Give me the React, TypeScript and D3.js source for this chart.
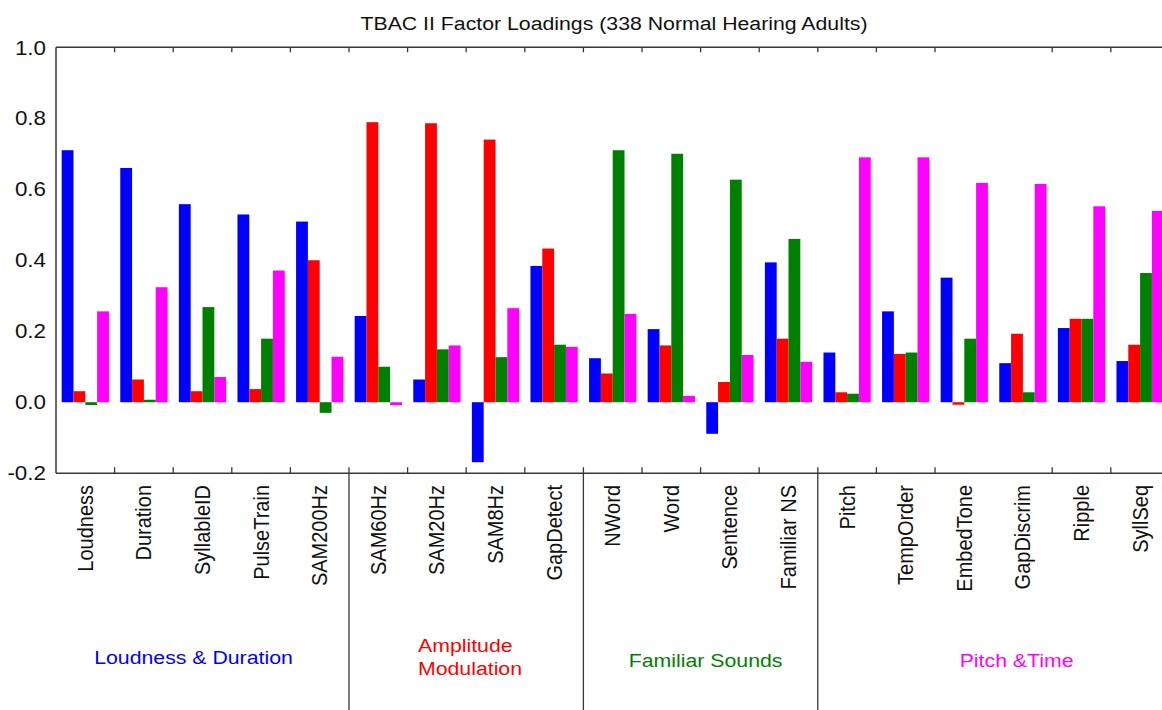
import React from 'react'
import * as d3 from 'd3'

const tests = ['Loudness', 'Duration', 'SyllableID', 'PulseTrain', 'SAM200Hz', 'SAM60Hz', 'SAM20Hz', 'SAM8Hz', 'GapDetect',
  'NWord', 'Word', 'Sentence', 'Familiar NS', 'Pitch', 'TempOrder', 'EmbedTone', 'GapDiscrim', 'Ripple', 'SyllSeq']

const loudnessDuration = [0.71, 0.66, 0.558, 0.529, 0.509, 0.243, 0.064, -0.169, 0.384, 0.124, 0.206, -0.089, 0.394, 0.14, 0.256, 0.351, 0.11, 0.209, 0.116]
const amplitudeMod = [0.031, 0.064, 0.031, 0.037, 0.40, 0.789, 0.786, 0.74, 0.433, 0.081, 0.16, 0.057, 0.179, 0.028, 0.136, -0.007, 0.193, 0.235, 0.162]
const familiarSounds = [-0.008, 0.007, 0.268, 0.179, -0.03, 0.10, 0.149, 0.127, 0.162, 0.71, 0.70, 0.627, 0.46, 0.024, 0.14, 0.179, 0.028, 0.235, 0.364]
const pitchTime = [0.256, 0.324, 0.071, 0.371, 0.128, -0.008, 0.16, 0.265, 0.156, 0.249, 0.018, 0.133, 0.114, 0.69, 0.69, 0.618, 0.615, 0.552, 0.539]

const seriesNames = ['Loudness & Duration', 'Amplitude Modulation', 'Familiar Sounds', 'Pitch & Time']
const seriesColors = ['#0000ff', '#ff0000', '#008000', '#ff00ff']
const seriesValues = [loudnessDuration, amplitudeMod, familiarSounds, pitchTime]

// factor groups: label lines, first test index
const groupLabels = [['Loudness & Duration'], ['Amplitude', 'Modulation'], ['Familiar Sounds'], ['Pitch &Time']]
const groupStarts = [0, 5, 9, 13]
const yTicks = [-0.2, 0.0, 0.2, 0.4, 0.6, 0.8, 1.0]

const W = 1162, H = 710
const FONT = '"Liberation Sans", Arial, sans-serif'
const SX = 1.12 // source picture is stretched horizontally

export default function App() {
  const x0 = d3.scaleBand<string>().domain(tests).range([56, 1169.4]).padding(0)
  const x1 = d3.scaleBand<string>().domain(seriesNames).range([0, x0.bandwidth()]).paddingInner(0).paddingOuter(0.48)
  const y = d3.scaleLinear().domain([-0.2, 1.0]).range([473.2, 47.3])
  const left = x0.range()[0]
  const right = x0.range()[1]
  const step = x0.step()
  const bounds = d3.range(1, tests.length)
  const groupEnds = [...groupStarts.slice(1), tests.length]
  const axis = '#383838'

  return (
    <div>
      <svg width={W} height={H} style={{ position: 'absolute', left: 0, top: 0, background: '#fff' }} fontFamily={FONT}>
        <g transform={`translate(614,30) scale(${SX},1)`}>
          <text textAnchor="middle" fontSize={19} fill="#111">TBAC II Factor Loadings (338 Normal Hearing Adults)</text>
        </g>

        {tests.map((t, i) => (
          <g key={t}>
            {seriesValues.map((vals, s) => {
              const v = vals[i]
              return (
                <rect key={s}
                  x={x0(t)! + x1(seriesNames[s])!}
                  y={y(Math.max(0, v))}
                  width={x1.bandwidth()}
                  height={Math.abs(y(v) - y(0))}
                  fill={seriesColors[s]} />
              )
            })}
          </g>
        ))}

        {/* frame */}
        <line x1={left} x2={right} y1={y(1)} y2={y(1)} stroke={axis} strokeWidth={1.5} />
        <line x1={left} x2={right} y1={y(-0.2)} y2={y(-0.2)} stroke={axis} strokeWidth={1.5} />
        <line x1={left} x2={left} y1={y(1)} y2={y(-0.2)} stroke={axis} strokeWidth={1.5} />
        <line x1={right} x2={right} y1={y(1)} y2={y(-0.2)} stroke={axis} strokeWidth={1.5} />

        {/* category boundary ticks (the source has none at 16) */}
        {bounds.filter(b => b !== 16).map(b => {
          const bx = left + b * step
          const divider = groupStarts.includes(b)
          return (
            <g key={b}>
              <line x1={bx} x2={bx} y1={y(1)} y2={y(1) + 5} stroke={axis} strokeWidth={1.3} />
              <line x1={bx} x2={bx} y1={y(-0.2) - 6} y2={divider ? H : y(-0.2)} stroke={axis} strokeWidth={1.3} />
            </g>
          )
        })}

        {yTicks.map(v => (
          <g key={v} transform={`translate(46,${y(v)}) scale(${SX},1)`}>
            <text textAnchor="end" dy="0.36em" fontSize={20} fill="#111">{v.toFixed(1)}</text>
          </g>
        ))}

        {tests.map(t => (
          <g key={t} transform={`translate(${x0(t)! + x0.bandwidth() / 2 + 7.5},485) scale(${SX},1) rotate(-90)`}>
            <text textAnchor="end" fontSize={20} fill="#111">{t}</text>
          </g>
        ))}

        {groupLabels.map((lines, g) => {
          const cx = left + ((groupStarts[g] + groupEnds[g]) / 2) * step
          const multi = lines.length > 1
          return (
            <g key={g} transform={`translate(${multi ? 418 : cx - (g === 0 ? 9 : g === 3 ? -23 : -5)},${multi ? 652 : g === 0 ? 664 : 667}) scale(${SX},1)`}>
              <text textAnchor={multi ? 'start' : 'middle'} fontSize={19} fill={seriesColors[g]}>
                {lines.map((l, k) => (
                  <tspan key={k} x={0} dy={k === 0 ? 0 : 23.5}>{l}</tspan>
                ))}
              </text>
            </g>
          )
        })}
      </svg>
    </div>
  )
}
